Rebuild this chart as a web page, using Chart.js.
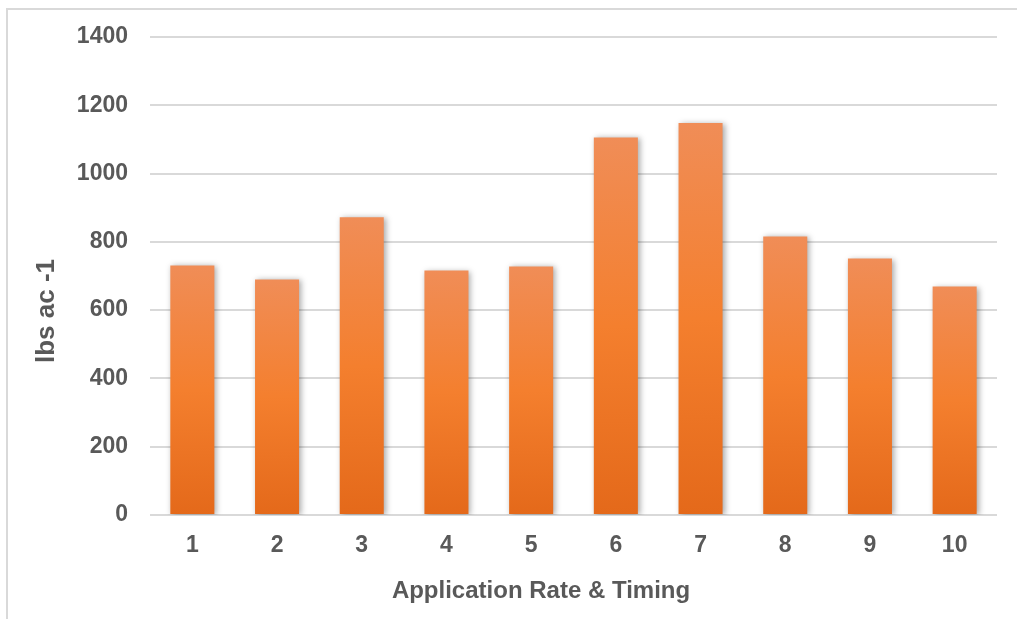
<!DOCTYPE html>
<html>
<head>
<meta charset="utf-8">
<script src="https://cdn.jsdelivr.net/npm/chart.js@4/dist/chart.umd.min.js"></script>
<style>
  html, body { margin: 0; padding: 0; background: #fff; overflow: hidden; }
  #wrap { position: relative; width: 1017px; height: 619px; }
  #frame { position: absolute; left: 6px; top: 8px; width: 1040px; height: 660px; border: 2px solid #d9d9d9; box-sizing: border-box; }
  canvas { position: absolute; left: 0; top: 0; }
</style>
</head>
<body>
<div id="wrap">
  <div id="frame"></div>
  <canvas id="chart" width="1017" height="619"></canvas>
</div>
<script>
const categories = ['1', '2', '3', '4', '5', '6', '7', '8', '9', '10'];
const yieldValues = [731, 690, 872, 716, 728, 1106, 1148, 816, 751, 669];
const yTicks = [0, 200, 400, 600, 800, 1000, 1200, 1400];
const xTitle = 'Application Rate & Timing';
const yTitle = 'lbs ac -1';

const textColor = '#595959';
const fontFamily = '"Liberation Sans", Arial, sans-serif';

// Each bar gets its own light-to-dark gradient, top to bottom
function barGradient(ctx) {
    const chart = ctx.chart;
    if (!chart.chartArea || ctx.raw === undefined) return '#f47f2e';
    const y = chart.scales.y;
    const top = y.getPixelForValue(ctx.raw);
    const bottom = y.getPixelForValue(0);
    const g = chart.ctx.createLinearGradient(0, top, 0, bottom);
    g.addColorStop(0, '#f08d57');
    g.addColorStop(0.5, '#f47f2e');
    g.addColorStop(1, '#e4691a');
    return g;
}

// Soft shadow behind bars
const barShadow = {
    id: 'barShadow',
    beforeDatasetsDraw(chart) {
        const c = chart.ctx;
        c.save();
        c.shadowColor = 'rgba(0, 0, 0, 0.35)';
        c.shadowBlur = 6;
        c.shadowOffsetX = 2;
        c.shadowOffsetY = 1;
    },
    afterDatasetsDraw(chart) {
        chart.ctx.restore();
    }
};

// Axis titles sit off-centre in the original, so place them by hand
const axisTitles = {
    id: 'axisTitles',
    afterDraw(chart) {
        const c = chart.ctx;
        c.save();
        c.fillStyle = textColor;
        c.textAlign = 'center';
        c.textBaseline = 'middle';
        c.font = 'bold 24px ' + fontFamily;
        c.fillText(xTitle, 541, 591);
        c.translate(47, 311);
        c.rotate(-Math.PI / 2);
        c.font = 'bold 26px ' + fontFamily;
        c.fillText(yTitle, 0, 0);
        c.restore();
    }
};

new Chart(document.getElementById('chart'), {
    type: 'bar',
    data: {
        labels: categories,
        datasets: [{
            label: yTitle,
            data: yieldValues,
            backgroundColor: barGradient,
            borderWidth: 0,
            categoryPercentage: 1,
            barPercentage: 0.52
        }]
    },
    options: {
        responsive: false,
        animation: false,
        layout: { padding: { left: 32, top: 37, right: 20, bottom: 14 } },
        plugins: {
            legend: { display: false },
            tooltip: { enabled: false }
        },
        scales: {
            x: {
                afterFit(axis) { axis.height = 90; },
                grid: { display: false },
                border: { display: false },
                ticks: {
                    color: textColor,
                    font: { family: fontFamily, size: 23, weight: 'bold' },
                    padding: 9
                }
            },
            y: {
                min: 0,
                max: 1400,
                afterFit(axis) { axis.width = 118; },
                afterBuildTicks(axis) {
                    axis.ticks = yTicks.map(v => ({ value: v }));
                },
                grid: { color: '#d9d9d9', lineWidth: 2, drawTicks: false },
                border: { display: false },
                ticks: {
                    color: textColor,
                    font: { family: fontFamily, size: 23, weight: 'bold' },
                    padding: 22,
                    callback: v => String(v)
                }
            }
        }
    },
    plugins: [barShadow, axisTitles]
});
</script>
</body>
</html>
